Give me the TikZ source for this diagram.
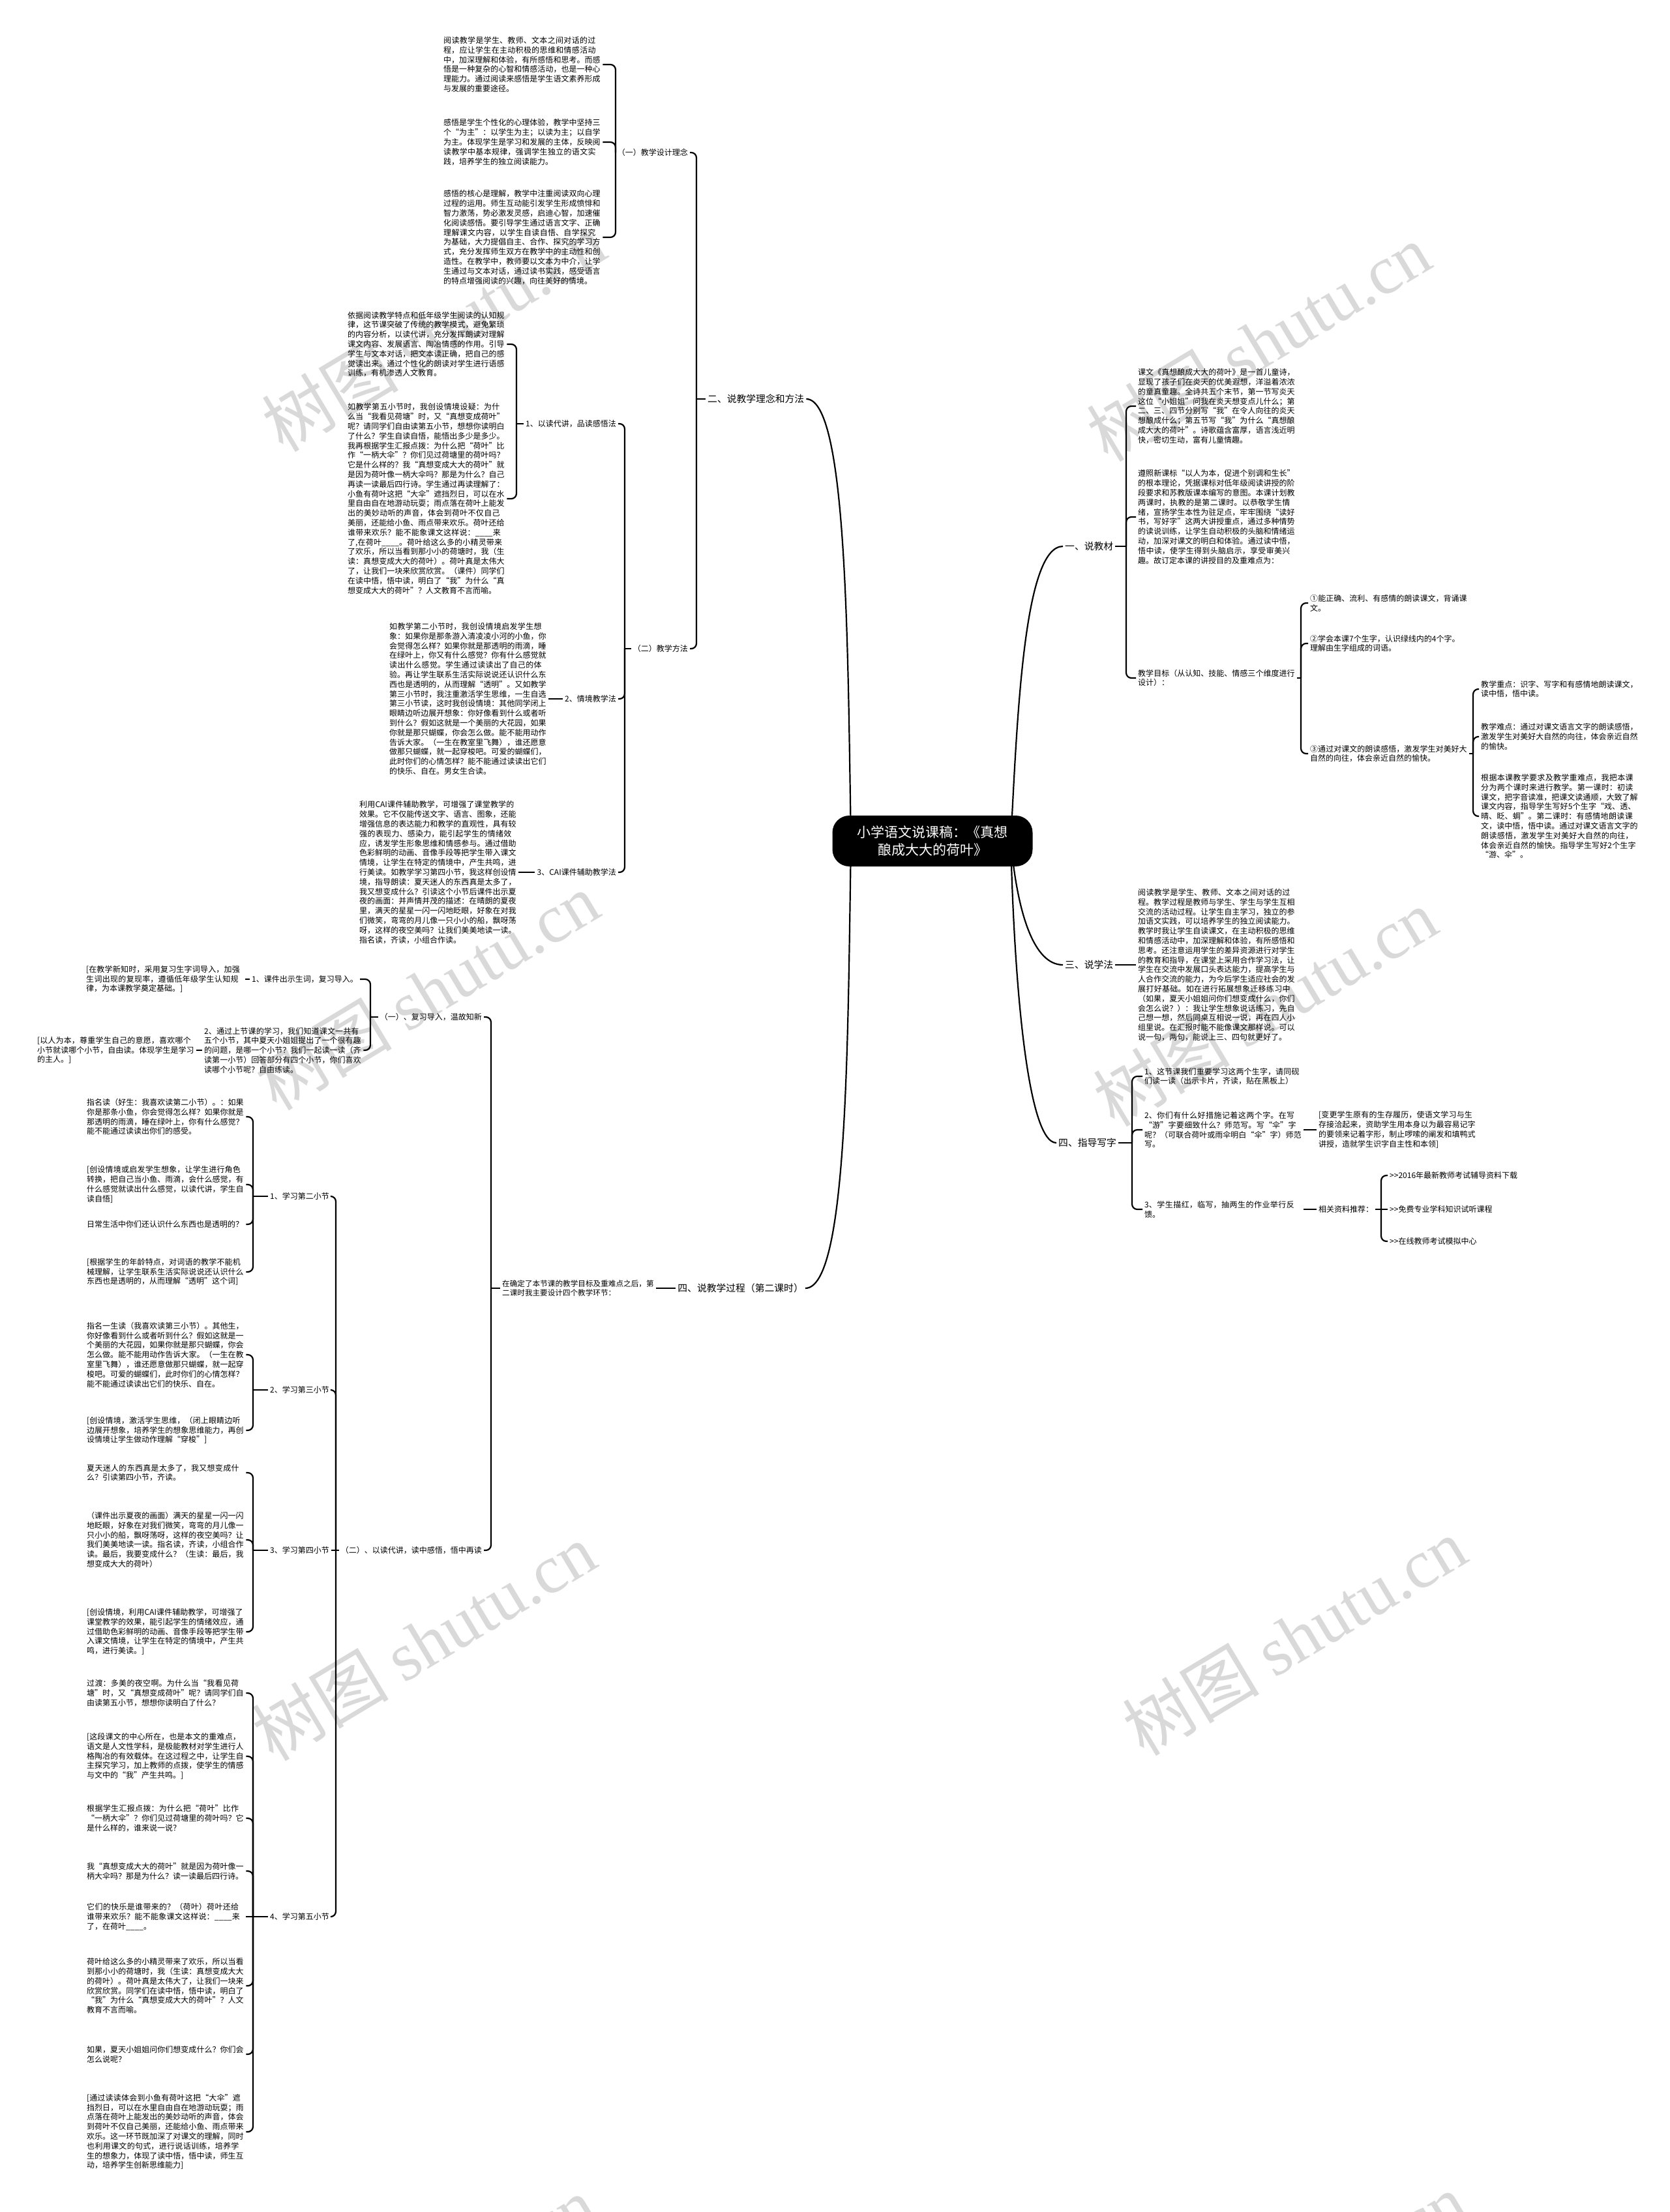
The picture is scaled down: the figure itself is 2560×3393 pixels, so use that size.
\documentclass[tikz,border=0pt]{standalone}
\usepackage{fontspec}
\setmainfont{Noto Sans CJK SC}
\newfontfamily\wmlatin{Liberation Serif}
\XeTeXlinebreaklocale "zh"
\XeTeXlinebreakskip=0pt plus 1pt
\pgfdeclarelayer{bg}
\pgfsetlayers{bg,main}
\tikzset{
  txt/.style={font=\fontsize{12}{14.8}\selectfont, text width=241pt, align=left, inner sep=3pt, anchor=west},
  stxt/.style={font=\fontsize{11.6}{13.5}\selectfont, text width=233pt, align=left, inner sep=3pt, anchor=west},
  lbl/.style={font=\fontsize{12}{14.8}\selectfont, inner sep=3pt},
  mainlbl/.style={font=\fontsize{14.8}{17}\selectfont, inner sep=3pt},
  conn/.style={draw=black, line width=2.2pt},
  wm/.style={text=black!15, font=\fontsize{105}{105}\selectfont, rotate=31, inner sep=0pt}
}
\newcommand\linkL[3]{\draw[conn,rounded corners=8pt] (#2.east) -- (#2.east -| #3) -- (#1.west -| #3);\draw[conn] (#1.west -| #3) -- (#1.west);}
\newcommand\linkR[3]{\draw[conn,rounded corners=8pt] (#2.west) -- (#2.west -| #3) -- (#1.east -| #3);\draw[conn] (#1.east -| #3) -- (#1.east);}
\begin{document}
\begin{tikzpicture}[x=1pt,y=-1pt]
\useasboundingbox (0,0) rectangle (2560,3393);
\begin{pgfonlayer}{bg}
\fill[white] (0,0) rectangle (2560,3393);
\node[wm] (wma) at (665,510) {树图 {\wmlatin shutu.cn}};
\node[wm] (wmb) at (1930,525) {树图 {\wmlatin shutu.cn}};
\node[wm] (wmc) at (655,1520) {树图 {\wmlatin shutu.cn}};
\node[wm] (wmd) at (1940,1545) {树图 {\wmlatin shutu.cn}};
\node[wm] (wme) at (650,2518) {树图 {\wmlatin shutu.cn}};
\node[wm] (wmf) at (1985,2510) {树图 {\wmlatin shutu.cn}};
\node[wm] (wmg) at (650,3520) {树图 {\wmlatin shutu.cn}};
\node[wm] (wmh) at (1985,3515) {树图 {\wmlatin shutu.cn}};
\end{pgfonlayer}

% centre
\node[fill=black, rounded corners=26pt, minimum width=307pt, minimum height=78pt, text=white, align=center, font=\fontsize{21}{27}\selectfont] (c) at (1430,1290) {小学语文说课稿：《真想\\酿成大大的荷叶》};

% ===== upper left =====
\node[mainlbl,anchor=west] (l1) at (1082,612) {二、说教学理念和方法};
\node[lbl,anchor=east] (y1) at (1058,234) {（一）教学设计理念};
\node[txt] (t1) at (677,99) {阅读教学是学生、教师、文本之间对话的过程，应让学生在主动积极的思维和情感活动中，加深理解和体验，有所感悟和思考。而感悟是一种复杂的心智和情感活动，也是一种心理能力。通过阅读来感悟是学生语文素养形成与发展的重要途径。};
\node[txt] (t2) at (677,218) {感悟是学生个性化的心理体验，教学中坚持三个“为主”：以学生为主；以读为主；以自学为主。体现学生是学习和发展的主体，反映阅读教学中基本规律，强调学生独立的语文实践，培养学生的独立阅读能力。};
\node[txt] (t3) at (677,364) {感悟的核心是理解，教学中注重阅读双向心理过程的运用。师生互动能引发学生形成愤悱和智力激荡，势必激发灵感，启迪心智，加速催化阅读感悟。要引导学生通过语言文字、正确理解课文内容，以学生自读自悟、自学探究为基础，大力提倡自主、合作、探究的学习方式，充分发挥师生双方在教学中的主动性和创造性。在教学中，教师要以文本为中介，让学生通过与文本对话，通过读书实践，感受语言的特点增强阅读的兴趣，向往美好的情境。};
\node[lbl,anchor=east] (y2) at (1058,995) {（二）教学方法};
\node[lbl,anchor=east] (m1) at (948,650) {1、以读代讲，品读感悟法};
\node[lbl,anchor=east] (m2) at (948,1072) {2、情境教学法};
\node[lbl,anchor=east] (m3) at (948,1338) {3、CAI课件辅助教学法};
\node[txt] (b1) at (530,528) {依据阅读教学特点和低年级学生阅读的认知规律，这节课突破了传统的教学模式，避免繁琐的内容分析，以读代讲，充分发挥朗读对理解课文内容、发展语言、陶冶情感的作用。引导学生与文本对话，把文本读正确，把自己的感觉读出来。通过个性化的朗读对学生进行语感训练，有机渗透人文教育。};
\node[txt] (b2) at (530,765) {如教学第五小节时，我创设情境设疑：为什么当“我看见荷塘”时，又“真想变成荷叶”呢？请同学们自由读第五小节，想想你读明白了什么？学生自读自悟，能悟出多少是多少。我再根据学生汇报点拨：为什么把“荷叶”比作“一柄大伞”？你们见过荷塘里的荷叶吗？它是什么样的？我“真想变成大大的荷叶”就是因为荷叶像一柄大伞吗？那是为什么？自己再读一读最后四行诗。学生通过再读理解了：小鱼有荷叶这把“大伞”遮挡烈日，可以在水里自由自在地游动玩耍；雨点落在荷叶上能发出的美妙动听的声音，体会到荷叶不仅自己美丽，还能给小鱼、雨点带来欢乐。荷叶还给谁带来欢乐？能不能象课文这样说：\_\_\_\_来了,在荷叶\_\_\_\_。荷叶给这么多的小精灵带来了欢乐，所以当看到那小小的荷塘时，我（生读：真想变成大大的荷叶）。荷叶真是太伟大了，让我们一块来欣赏欣赏。（课件）同学们在读中悟，悟中读，明白了“我”为什么“真想变成大大的荷叶”？人文教育不言而喻。};
\node[txt] (b3) at (594,1072) {如教学第二小节时，我创设情境启发学生想象：如果你是那条游入清凌凌小河的小鱼，你会觉得怎么样？如果你就是那透明的雨滴，睡在绿叶上，你又有什么感觉？你有什么感觉就读出什么感觉。学生通过读读出了自己的体验。再让学生联系生活实际说说还认识什么东西也是透明的，从而理解“透明”。又如教学第三小节时，我注重激活学生思维，一生自选第三小节读，这时我创设情境：其他同学闭上眼睛边听边展开想象：你好像看到什么或者听到什么？假如这就是一个美丽的大花园，如果你就是那只蝴蝶，你会怎么做。能不能用动作告诉大家。（一生在教室里飞舞），谁还愿意做那只蝴蝶，就一起穿梭吧。可爱的蝴蝶们，此时你们的心情怎样？能不能通过读读出它们的快乐、自在。男女生合读。};
\node[txt] (b4) at (548,1338) {利用CAI课件辅助教学，可增强了课堂教学的效果。它不仅能传送文字、语言、图象，还能增强信息的表达能力和教学的直观性，具有较强的表现力、感染力，能引起学生的情绪效应，诱发学生形象思维和情感参与。通过借助色彩鲜明的动画、音像手段等把学生带入课文情境，让学生在特定的情境中，产生共鸣，进行美读。如教学学习第四小节，我这样创设情境，指导朗读：夏天迷人的东西真是太多了，我又想变成什么？引读这个小节后课件出示夏夜的画面：并声情并茂的描述：在晴朗的夏夜里，满天的星星一闪一闪地眨眼，好象在对我们微笑，弯弯的月儿像一只小小的船，飘呀荡呀，这样的夜空美吗？让我们美美地读一读。指名读，齐读，小组合作读。};

% ===== right side =====
\node[mainlbl,anchor=west] (e1) at (1630,838) {一、说教材};
\node[txt] (r1) at (1742,623) {课文《真想酿成大大的荷叶》是一首儿童诗，显现了孩子们在炎天的优美遐想，洋溢着浓浓的童真童趣。全诗共五个末节，第一节写炎天这位“小姐姐”问我在炎天想变点儿什么；第二、三、四节分别写“我”在令人向往的炎天想酿成什么；第五节写“我”为什么“真想酿成大大的荷叶”。诗歌蕴含富厚，语言浅近明快，密切生动，富有儿童情趣。};
\node[txt] (r2) at (1742,793) {遵照新课标“以人为本，促进个别调和生长”的根本理论，凭据课标对低年级阅读讲授的阶段要求和苏教版课本编写的意图。本课计划教两课时，执教的是第二课时。以恭敬学生情绪，宣扬学生本性为驻足点，牢牢围绕“读好书，写好字”这两大讲授重点，通过多种情势的读说训练，让学生自动积极的头脑和情绪运动，加深对课文的明白和体验。通过读中悟，悟中读，使学生得到头脑启示，享受审美兴趣。故订定本课的讲授目的及重难点为：};
\node[txt] (r3) at (1742,1040) {教学目标（从认知、技能、情感三个维度进行设计）：};
\node[txt] (g1) at (2006,925) {①能正确、流利、有感情的朗读课文，背诵课文。};
\node[txt] (g2) at (2006,987) {②学会本课7个生字，认识绿线内的4个字。\\理解由生字组成的词语。};
\node[txt] (g3) at (2006,1156) {③通过对课文的朗读感悟，激发学生对美好大自然的向往，体会亲近自然的愉快。};
\node[txt] (z1) at (2268,1057) {教学重点：识字、写字和有感情地朗读课文，读中悟，悟中读。};
\node[txt] (z2) at (2268,1130) {教学难点：通过对课文语言文字的朗读感悟，激发学生对美好大自然的向往，体会亲近自然的愉快。};
\node[txt] (z3) at (2268,1252) {根据本课教学要求及教学重难点，我把本课分为两个课时来进行教学。第一课时：初读课文，把字音读准，把课文读通顺，大致了解课文内容，指导学生写好5个生字“戏、透、晴、眨、蜩”。第二课时：有感情地朗读课文，读中悟，悟中读。通过对课文语言文字的朗读感悟，激发学生对美好大自然的向往，体会亲近自然的愉快。指导学生写好2个生字“游、伞”。};

\node[mainlbl,anchor=west] (e3) at (1630,1480) {三、说学法};
\node[txt] (s1) at (1742,1480) {阅读教学是学生、教师、文本之间对话的过程。教学过程是教师与学生、学生与学生互相交流的活动过程。让学生自主学习，独立的参加语文实践，可以培养学生的独立阅读能力。教学时我让学生自读课文，在主动积极的思维和情感活动中，加深理解和体验，有所感悟和思考。还注意运用学生的差异资源进行对学生的教育和指导，在课堂上采用合作学习法，让学生在交流中发展口头表达能力，提高学生与人合作交流的能力，为今后学生适应社会的发展打好基础。如在进行拓展想象迁移练习中（如果，夏天小姐姐问你们想变成什么，你们会怎么说？）：我让学生想象说话练习，先自己想一想，然后同桌互相说一说，再在四人小组里说。在汇报时能不能像课文那样说。可以说一句，两句，能说上三、四句就更好了。};

\node[mainlbl,anchor=west] (e4) at (1620,1753) {四、指导写字};
\node[txt] (w1) at (1752,1651) {1、这节课我们重要学习这两个生字，请同砚们读一读（出示卡片，齐读，贴在黑板上）};
\node[txt] (w2) at (1752,1733) {2、你们有什么好措施记着这两个字。在写“游”字要细致什么？师范写。写“伞”字呢？（可联合荷叶或雨伞明白“伞”字）师范写。};
\node[txt] (w3) at (1752,1855) {3、学生描红，临写，抽两生的作业举行反馈。};
\node[txt] (v) at (2019,1733) {[变更学生原有的生存履历，使语文学习与生存接洽起来，资助学生用本身以为最容易记字的要领来记着字形，制止啰嗦的阐发和填鸭式讲授，造就学生识字自主性和本领]};
\node[lbl,anchor=west] (x0) at (2019,1855) {相关资料推荐：};
\node[lbl,anchor=west] (x1) at (2128,1803) {>\kern0pt>2016年最新教师考试辅导资料下载};
\node[lbl,anchor=west] (x2) at (2128,1855) {>\kern0pt>免费专业学科知识试听课程};
\node[lbl,anchor=west] (x3) at (2128,1904) {>\kern0pt>在线教师考试模拟中心};

% ===== lower left =====
\node[mainlbl,anchor=east] (l4) at (1235,1976) {四、说教学过程（第二课时）};
\node[stxt] (p4) at (767,1976) {在确定了本节课的教学目标及重难点之后，第二课时我主要设计四个教学环节：};
\node[lbl,anchor=east] (k1) at (742,1560) {（一）、复习导入，温故知新};
\node[lbl,anchor=east] (k2) at (742,2378) {（二）、以读代讲，读中感悟，悟中再读};
\node[lbl,anchor=east] (n1) at (552,1502) {1、课件出示生词，复习导入。};
\node[txt] (n2) at (310,1611) {2、通过上节课的学习，我们知道课文一共有五个小节，其中夏天小姐姐提出了一个很有趣的问题，是哪一个小节？我们一起读一读（齐读第一小节）回答部分有四个小节，你们喜欢读哪个小节呢？自由练读。};
\node[txt] (n1c) at (129,1502) {[在教学新知时，采用复习生字词导入，加强生词出现的复现率，遵循低年级学生认知规律，为本课教学奠定基础。]};
\node[txt] (n2c) at (54,1611) {[以人为本，尊重学生自己的意愿，喜欢哪个小节就读哪个小节，自由读。体现学生是学习的主人。]};

\node[lbl,anchor=east] (q1) at (508,1835) {1、学习第二小节};
\node[lbl,anchor=east] (q2) at (508,2132) {2、学习第三小节};
\node[lbl,anchor=east] (q3) at (508,2378) {3、学习第四小节};
\node[lbl,anchor=east] (q4) at (508,2940) {4、学习第五小节};

\node[txt] (qa) at (130,1713) {指名读（好生：我喜欢读第二小节）。：如果你是那条小鱼，你会觉得怎么样？如果你就是那透明的雨滴，睡在绿叶上，你有什么感觉？能不能通过读读出你们的感受。};
\node[txt] (qb) at (130,1817) {[创设情境或启发学生想象，让学生进行角色转换，把自己当小鱼、雨滴，会什么感觉，有什么感觉就读出什么感觉，以读代讲，学生自读自悟]};
\node[txt] (qc) at (130,1878) {日常生活中你们还认识什么东西也是透明的？};
\node[txt] (qd) at (130,1951) {[根据学生的年龄特点，对词语的教学不能机械理解，让学生联系生活实际说说还认识什么东西也是透明的，从而理解“透明”这个词]};
\node[txt] (qe) at (130,2078) {指名一生读（我喜欢读第三小节）。其他生，你好像看到什么或者听到什么？假如这就是一个美丽的大花园，如果你就是那只蝴蝶，你会怎么做。能不能用动作告诉大家。（一生在教室里飞舞），谁还愿意做那只蝴蝶，就一起穿梭吧。可爱的蝴蝶们，此时你们的心情怎样？能不能通过读读出它们的快乐、自在。};
\node[txt] (qf) at (130,2194) {[创设情境，激活学生思维，（闭上眼睛边听边展开想象，培养学生的想象思维能力，再创设情境让学生做动作理解“穿梭”]};
\node[txt] (qg) at (130,2259) {夏天迷人的东西真是太多了，我又想变成什么？引读第四小节，齐读。};
\node[txt] (qh) at (130,2362) {（课件出示夏夜的画面）满天的星星一闪一闪地眨眼，好象在对我们微笑，弯弯的月儿像一只小小的船，飘呀荡呀，这样的夜空美吗？让我们美美地读一读。指名读，齐读，小组合作读。最后，我要变成什么？（生读：最后，我想变成大大的荷叶）};
\node[txt] (qi) at (130,2503) {[创设情境，利用CAI课件辅助教学，可增强了课堂教学的效果，能引起学生的情绪效应，通过借助色彩鲜明的动画、音像手段等把学生带入课文情境，让学生在特定的情境中，产生共鸣，进行美读。]};
\node[txt] (qj) at (130,2597) {过渡：多美的夜空啊。为什么当“我看见荷塘”时，又“真想变成荷叶”呢？请同学们自由读第五小节，想想你读明白了什么？};
\node[txt] (qk) at (130,2694) {[这段课文的中心所在，也是本文的重难点，语文是人文性学科，是极能教材对学生进行人格陶冶的有效载体。在这过程之中，让学生自主探究学习，加上教师的点拨，使学生的情感与文中的“我”产生共鸣。]};
\node[txt] (ql) at (130,2789) {根据学生汇报点拨：为什么把“荷叶”比作“一柄大伞”？你们见过荷塘里的荷叶吗？它是什么样的，谁来说一说？};
\node[txt] (qm) at (130,2870) {我“真想变成大大的荷叶”就是因为荷叶像一柄大伞吗？那是为什么？读一读最后四行诗。};
\node[txt] (qn) at (130,2940) {它们的快乐是谁带来的？（荷叶）荷叶还给谁带来欢乐？能不能象课文这样说：\_\_\_\_来了，在荷叶\_\_\_\_。};
\node[txt] (qo) at (130,3046) {荷叶给这么多的小精灵带来了欢乐，所以当看到那小小的荷塘时，我（生读：真想变成大大的荷叶）。荷叶真是太伟大了，让我们一块来欣赏欣赏。同学们在读中悟，悟中读，明白了“我”为什么“真想变成大大的荷叶”？人文教育不言而喻。};
\node[txt] (qp) at (130,3151) {如果，夏天小姐姐问你们想变成什么？你们会怎么说呢？};
\node[txt] (qq) at (130,3270) {[通过读读体会到小鱼有荷叶这把“大伞”遮挡烈日，可以在水里自由自在地游动玩耍；雨点落在荷叶上能发出的美妙动听的声音，体会到荷叶不仅自己美丽，还能给小鱼、雨点带来欢乐。这一环节既加深了对课文的理解，同时也利用课文的句式，进行说话训练，培养学生的想象力，体现了读中悟，悟中读，师生互动，培养学生创新思维能力]};

% ===== bars =====
\coordinate (bL1) at (1068,0);
\coordinate (bY1) at (944,0);
\coordinate (bY2) at (958,0);
\coordinate (bM1) at (792,0);
\coordinate (bE1) at (1727,0);
\coordinate (bR3) at (1995,0);
\coordinate (bG3) at (2259,0);
\coordinate (bE4) at (1736,0);
\coordinate (bX) at (2118,0);
\coordinate (bP4) at (753,0);
\coordinate (bK1) at (568,0);
\coordinate (bK2) at (515,0);
\coordinate (bQ) at (388,0);

\begin{pgfonlayer}{bg}
% centre curves
\draw[conn] (l1.east) .. controls (1300,612) and (1300,1000) .. (1305,1290);
\draw[conn] (l4.east) .. controls (1300,1976) and (1300,1600) .. (1305,1290);
\draw[conn] (e1.west) .. controls (1570,838) and (1560,1100) .. (1550,1290);
\draw[conn] (e3.west) .. controls (1585,1480) and (1560,1400) .. (1550,1290);
\draw[conn] (e4.west) .. controls (1575,1753) and (1555,1500) .. (1550,1290);
% upper left
\linkL{l1}{y1}{bL1}
\linkL{l1}{y2}{bL1}
\linkL{y1}{t1}{bY1}
\linkL{y1}{t2}{bY1}
\linkL{y1}{t3}{bY1}
\linkL{y2}{m1}{bY2}
\linkL{y2}{m2}{bY2}
\linkL{y2}{m3}{bY2}
\linkL{m1}{b1}{bM1}
\linkL{m1}{b2}{bM1}
\draw[conn] (b3.east) -- (m2.west);
\draw[conn] (b4.east) -- (m3.west);
% right
\linkR{e1}{r1}{bE1}
\linkR{e1}{r2}{bE1}
\linkR{e1}{r3}{bE1}
\linkR{r3}{g1}{bR3}
\linkR{r3}{g2}{bR3}
\linkR{r3}{g3}{bR3}
\linkR{g3}{z1}{bG3}
\linkR{g3}{z2}{bG3}
\linkR{g3}{z3}{bG3}
\draw[conn] (e3.east) -- (s1.west);
\linkR{e4}{w1}{bE4}
\linkR{e4}{w2}{bE4}
\linkR{e4}{w3}{bE4}
\draw[conn] (w2.east) -- (v.west);
\draw[conn] (w3.east) -- (x0.west);
\linkR{x0}{x1}{bX}
\draw[conn] (x0.east) -- (x2.west);
\linkR{x0}{x3}{bX}
% lower left
\draw[conn] (p4.east) -- (l4.west);
\linkL{p4}{k1}{bP4}
\linkL{p4}{k2}{bP4}
\linkL{k1}{n1}{bK1}
\linkL{k1}{n2}{bK1}
\draw[conn] (n1c.east) -- (n1.west);
\draw[conn] (n2c.east) -- (n2.west);
\linkL{k2}{q1}{bK2}
\linkL{k2}{q2}{bK2}
\draw[conn] (q3.east) -- (k2.west);
\linkL{k2}{q4}{bK2}
\linkL{q1}{qa}{bQ}
\linkL{q1}{qb}{bQ}
\linkL{q1}{qc}{bQ}
\linkL{q1}{qd}{bQ}
\linkL{q2}{qe}{bQ}
\linkL{q2}{qf}{bQ}
\linkL{q3}{qg}{bQ}
\linkL{q3}{qh}{bQ}
\linkL{q3}{qi}{bQ}
\linkL{q4}{qj}{bQ}
\linkL{q4}{qk}{bQ}
\linkL{q4}{ql}{bQ}
\linkL{q4}{qm}{bQ}
\draw[conn] (qn.east) -- (q4.west);
\linkL{q4}{qo}{bQ}
\linkL{q4}{qp}{bQ}
\linkL{q4}{qq}{bQ}
\end{pgfonlayer}
\end{tikzpicture}
\end{document}
